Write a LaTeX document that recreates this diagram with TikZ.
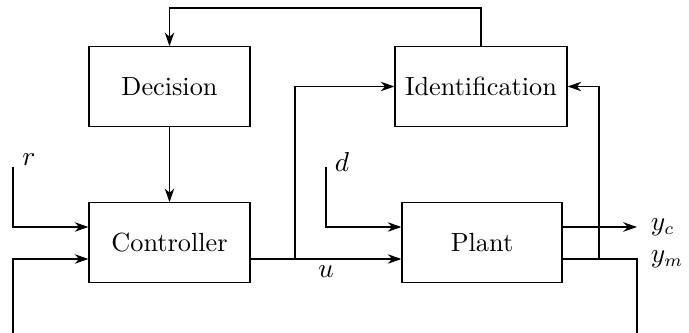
\documentclass[tikz,border=0pt]{standalone}
\usetikzlibrary{arrows.meta}
\begin{document}
\begin{tikzpicture}[x=0.4pt,y=-0.4pt,
  every node/.style={font=\fontsize{10.5pt}{12.5pt}\selectfont},
  blk/.style={draw,minimum width=64.4pt,minimum height=31.8pt,inner sep=0pt},
  arr/.style={-{Stealth[length=5.5pt,width=3.8pt]}},
  line width=0.45pt]
\useasboundingbox (0,0) rectangle (689,333);
\node[blk] (dec) at (169.5,86.5) {Decision};
\node[blk,minimum width=68.8pt] (ident) at (481,86.5) {Identification};
\node[blk] (ctrl) at (169.5,242.5) {Controller};
\node[blk,minimum width=64pt] (plant) at (482,242.5) {Plant};
\coordinate (L1) at (0,227);
\coordinate (L2) at (0,259);
\coordinate (top) at (0,8);
\coordinate (rs) at (13,167);
\coordinate (ys) at (13,333);
\coordinate (ds) at (326,167);
\coordinate (br) at (295,259);
\coordinate (yc) at (637,227);
\coordinate (ye) at (637,333);
\coordinate (vj) at (599,259);
\node (rl) at (29,160) {$r$};
\node (dl) at (342,162) {$d$};
\draw[arr] (rs) |- (ctrl.west |- L1);
\draw[arr] (ys) |- (ctrl.west |- L2);
\draw[arr] (ctrl.east |- L2) -- node[below,yshift=1pt]{$u$} (plant.west |- L2);
\draw[arr] (br) |- (ident.west);
\draw[arr] (ds) |- (plant.west |- L1);
\draw[arr] (plant.east |- L1) -- (yc) node[right,xshift=2pt]{$y_c$};
\draw (plant.east |- L2) -| (ye);
\node[right,xshift=2pt] (yml) at (637,259) {$y_m$};
\draw[arr] (vj) |- (ident.east);
\draw[arr] (ident.north) |- (dec.north |- top) -- (dec.north);
\draw[arr] (dec.south) -- (ctrl.north);
\end{tikzpicture}
\end{document}
